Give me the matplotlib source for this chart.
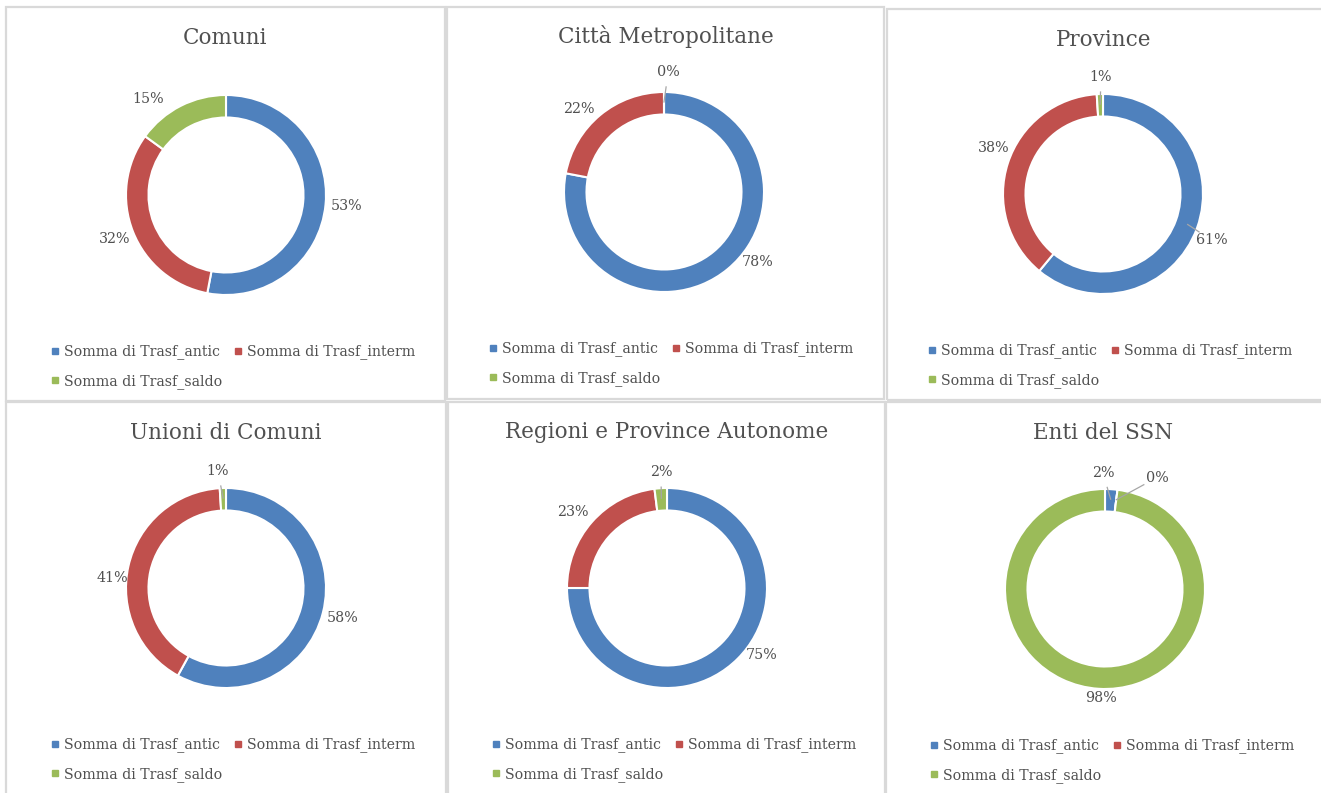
import matplotlib
matplotlib.use('Agg')
import matplotlib.pyplot as plt
from matplotlib.patches import Rectangle
from matplotlib.lines import Line2D
import numpy as np

plt.rcParams['font.family'] = ['DejaVu Serif']

# ---------------- data ----------------
titles = ["Comuni", "Città Metropolitane", "Province",
          "Unioni di Comuni", "Regioni e Province Autonome", "Enti del SSN"]
series_names = ["Somma di Trasf_antic", "Somma di Trasf_interm", "Somma di Trasf_saldo"]
comuni = [53, 32, 15]
citta_metropolitane = [78, 22, 0]
province = [61, 38, 1]
unioni_comuni = [58, 41, 1]
regioni_province_aut = [75, 23, 2]
enti_ssn = [2, 0, 98]
panel_values = [comuni, citta_metropolitane, province,
                unioni_comuni, regioni_province_aut, enti_ssn]

# ---------------- style / layout ----------------
colors = ["#4F81BD", "#C0504D", "#9BBB59"]
text_col = "#505050"
W, H = 1321, 793
fig = plt.figure(figsize=(W / 100, H / 100), dpi=100)

# panel frames (pixels: x0, y0, x1, y1)
frames = [(6, 7, 445, 401), (447, 7, 884, 399), (887, 9, 1330, 400),
          (6, 402, 446, 810), (448, 402, 885, 810), (886, 402, 1330, 810)]
# donut centres (pixels)
centres = [(226, 195), (664, 192), (1103, 194),
           (226, 588), (667, 588), (1105, 589)]
title_y = [38, 37, 40, 433, 432, 433]

# label placement: (angle clockwise from top in deg or None for mid, radius)
label_pos = [
    [(None, 1.21), (None, 1.2), (321, 1.23)],
    [(127, 1.17), (314, 1.19), (2, 1.2)],
    [(113, 1.18), (293, 1.19), (359, 1.17)],
    [(None, 1.2), (275, 1.14), (356, 1.17)],
    [(125, 1.16), (309, 1.21), (357, 1.16)],
    [(359, 1.16), (25, 1.23), (182, 1.09)],
]
leaders = {(1, 2), (2, 0), (2, 2), (3, 2), (4, 2), (5, 0), (5, 1)}

def px2fig(x, y):
    return x / W, 1 - y / H

# frames
for (x0, y0, x1, y1) in frames:
    fx, fy = px2fig(x0, y1)
    fig.patches.append(Rectangle((fx, fy), (x1 - x0) / W, (y1 - y0) / H,
                                 transform=fig.transFigure, fill=False,
                                 edgecolor="#D9D9D9", linewidth=1.6))

half = 150
for i, vals in enumerate(panel_values):
    cx, cy = centres[i]
    ax = fig.add_axes([(cx - half) / W, 1 - (cy + half) / H, 2 * half / W, 2 * half / H])
    ax.pie(vals, colors=colors, startangle=90, counterclock=False, radius=1.0,
           wedgeprops=dict(width=0.225, edgecolor="white", linewidth=1.5))
    ax.set_xlim(-1.5, 1.5)
    ax.set_ylim(-1.5, 1.5)
    ax.axis('off')

    total = float(sum(vals))
    cum = 0.0
    for j, v in enumerate(vals):
        mid = (cum + v / 2) / total * 360.0
        cum += v
        ang, r = label_pos[i][j]
        if ang is None:
            ang = mid
        lx, ly = r * np.sin(np.radians(ang)), r * np.cos(np.radians(ang))
        ax.text(lx, ly, f"{int(round(v / total * 100))}%", ha='center', va='center',
                fontsize=10.3, color=text_col)
        if (i, j) in leaders:
            p0 = np.array([0.9 * np.sin(np.radians(mid)), 0.9 * np.cos(np.radians(mid))])
            p1 = np.array([lx, ly])
            d = p0 - p1
            d = d / np.linalg.norm(d)
            p1 = p1 + d * 0.15
            ax.plot([p0[0], p1[0]], [p0[1], p1[1]], color="#A6A6A6", lw=0.9)

    # title
    tx, ty = px2fig((frames[i][0] + min(frames[i][2], W)) / 2, title_y[i])
    fig.text(tx, ty, titles[i], ha='center', va='center', fontsize=15.5, color=text_col)

    # legend
    handles = [Line2D([], [], marker='s', color=c, linestyle='none', markersize=4.4)
               for c in colors]
    order = [0, 2, 1]
    lx, ly = px2fig(cx - 175, cy + 149.5)
    fig.legend([handles[k] for k in order], [series_names[k] for k in order],
               loc='upper left', bbox_to_anchor=(lx, ly), bbox_transform=fig.transFigure,
               ncol=2, frameon=False, fontsize=10.2, labelcolor=text_col,
               handlelength=0.6, handletextpad=0.35, columnspacing=0.78,
               labelspacing=1.05, borderpad=0, borderaxespad=0)

fig.savefig("out.png", dpi=100, facecolor="white")
